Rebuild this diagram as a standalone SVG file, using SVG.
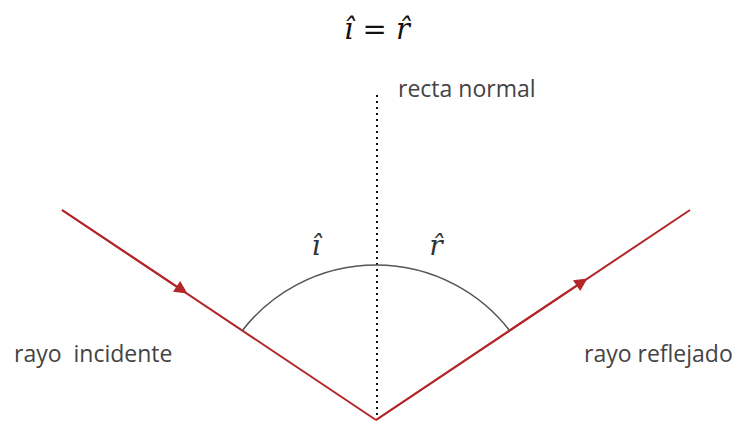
<svg xmlns="http://www.w3.org/2000/svg" width="738" height="424" viewBox="0 0 738 424">
<style>
.ray{stroke:#b3262a;stroke-width:2;fill:none}
.lbl{font-family:"Open Sans","Liberation Sans",sans-serif;font-size:23px;fill:#444}
.math{font-family:"DejaVu Serif","Liberation Serif",serif;font-style:italic;fill:#111}
.ang{font-family:"DejaVu Serif","Liberation Serif",serif;font-style:italic;font-size:28px;fill:#333}
</style>
<defs>
<marker id="arr" viewBox="0 0 10 10" refX="5" refY="5" markerWidth="15" markerHeight="13" orient="auto" markerUnits="userSpaceOnUse">
<path d="M0,0 L10,5 L0,10 Z" fill="#b3262a"/>
</marker>
</defs>
<rect width="738" height="424" fill="#fff"/>
<g id="title"><text class="math" x="377" y="39" font-size="29" text-anchor="middle">ı̂ = r̂</text></g>
<g id="connectors">
<line id="normal" x1="377" y1="95" x2="377" y2="420" stroke="#111" stroke-width="2" stroke-dasharray="2 4"/>
<line id="incident" class="ray" x1="62" y1="210" x2="376" y2="420"/>
<line id="reflected" class="ray" x1="376" y1="420" x2="690" y2="210"/>
<path d="M62,210 L182,290" class="ray" stroke="none" marker-end="url(#arr)"/>
<path d="M376,420 L582,282" class="ray" stroke="none" marker-end="url(#arr)"/>
<path id="arc" d="M242,331 A169,169 0 0 1 510,331" fill="none" stroke="#555" stroke-width="1.5"/>
</g>
<g id="normal-label"><text class="lbl" x="398" y="97">recta normal</text></g>
<g id="angle-i"><text class="ang" x="316" y="255" text-anchor="middle">ı̂</text></g>
<g id="angle-r"><text class="ang" x="436" y="255" text-anchor="middle">r̂</text></g>
<g id="incident-label"><text class="lbl" x="14" y="362" xml:space="preserve">rayo  incidente</text></g>
<g id="reflected-label"><text class="lbl" x="584" y="362">rayo reflejado</text></g>
</svg>
